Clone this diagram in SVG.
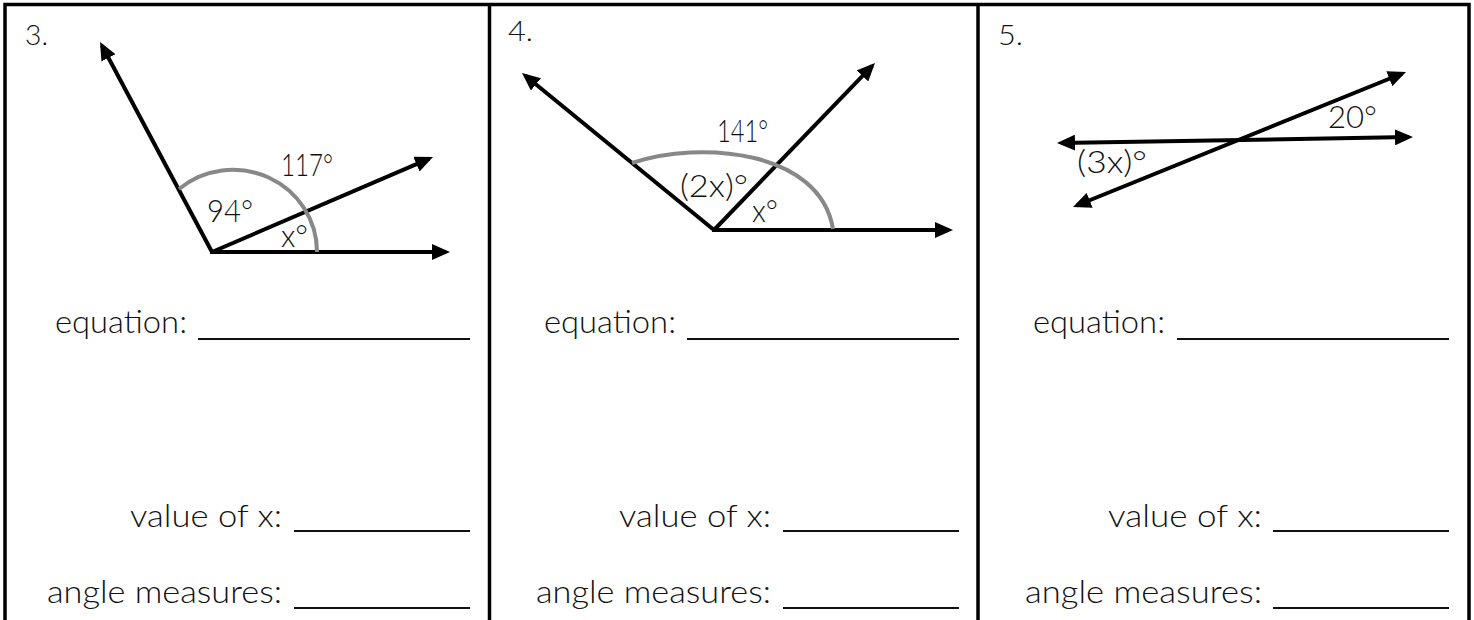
<svg xmlns="http://www.w3.org/2000/svg" width="1474" height="620" viewBox="0 0 1474 620">
<style>
.frame{fill:none;stroke:#000;stroke-width:3.5}
.ray{fill:none;stroke:#000;stroke-width:4;marker-end:url(#ah)}
.dbl{fill:none;stroke:#000;stroke-width:4;marker-end:url(#ah);marker-start:url(#ah)}
.arc{fill:none;stroke:#888;stroke-width:4}
.blank{stroke:#111;stroke-width:2}
text{font-family:"Lato","Liberation Sans",sans-serif;font-weight:300;fill:#111;font-size:32px}
.num{font-size:28px}
</style>
<defs>
<marker id="ah" markerUnits="userSpaceOnUse" markerWidth="18" markerHeight="16" viewBox="0 0 18 16" refX="14" refY="8" orient="auto-start-reverse">
<path d="M0,0 L18,8 L0,16 z" fill="#000"/>
</marker>
</defs>
<g id="frame">
<path class="frame" d="M5,620 V4.5 H1469 V620"/>
<line class="frame" x1="489.5" y1="4.5" x2="489.5" y2="620"/>
<line class="frame" x1="978" y1="4.5" x2="978" y2="620"/>
</g>
<g id="connectors">
<line class="ray" x1="212" y1="252" x2="101.9" y2="45.5"/>
<line class="ray" x1="212" y1="252" x2="429.3" y2="158.6"/>
<line class="ray" x1="210" y1="252" x2="446" y2="252"/>
<line class="ray" x1="714" y1="230" x2="525.1" y2="75.5"/>
<line class="ray" x1="714" y1="230" x2="872.2" y2="65.9"/>
<line class="ray" x1="712" y1="230" x2="949" y2="230"/>
<line class="dbl" x1="1061" y1="142.9" x2="1409" y2="137.1"/>
<line class="dbl" x1="1076.7" y1="205.5" x2="1402.3" y2="73.5"/>
</g>
<g id="problem3">
<text class="num" x="25" y="45" textLength="23" lengthAdjust="spacingAndGlyphs">3.</text>
<path class="arc" d="M179,189 A84,82 0 0 1 317,252"/>
<text x="281" y="176" textLength="52" lengthAdjust="spacingAndGlyphs">117°</text>
<text x="207" y="222" textLength="46" lengthAdjust="spacingAndGlyphs">94°</text>
<text x="281" y="247" textLength="27" lengthAdjust="spacingAndGlyphs">x°</text>
<text x="55" y="333" textLength="132" lengthAdjust="spacingAndGlyphs">equation:</text>
<line class="blank" x1="198" y1="339" x2="470" y2="339"/>
<text x="130" y="527" textLength="152" lengthAdjust="spacingAndGlyphs">value of x:</text>
<line class="blank" x1="294" y1="531" x2="470" y2="531"/>
<text x="47" y="603" textLength="235" lengthAdjust="spacingAndGlyphs">angle measures:</text>
<line class="blank" x1="294" y1="608" x2="470" y2="608"/>
</g>
<g id="problem4">
<text class="num" x="508" y="41" textLength="25" lengthAdjust="spacingAndGlyphs">4.</text>
<path class="arc" d="M632,163 C700,140 820,150 833,229"/>
<text x="717" y="142" textLength="51" lengthAdjust="spacingAndGlyphs">141°</text>
<text x="680" y="197" textLength="68" lengthAdjust="spacingAndGlyphs">(2x)°</text>
<text x="752" y="222" textLength="26" lengthAdjust="spacingAndGlyphs">x°</text>
<text x="544" y="333" textLength="132" lengthAdjust="spacingAndGlyphs">equation:</text>
<line class="blank" x1="687" y1="339" x2="959" y2="339"/>
<text x="619" y="527" textLength="152" lengthAdjust="spacingAndGlyphs">value of x:</text>
<line class="blank" x1="783" y1="531" x2="959" y2="531"/>
<text x="536" y="603" textLength="235" lengthAdjust="spacingAndGlyphs">angle measures:</text>
<line class="blank" x1="783" y1="608" x2="959" y2="608"/>
</g>
<g id="problem5">
<text class="num" x="998" y="45" textLength="25" lengthAdjust="spacingAndGlyphs">5.</text>
<text x="1328" y="128" textLength="49" lengthAdjust="spacingAndGlyphs">20°</text>
<text x="1077" y="173" textLength="70" lengthAdjust="spacingAndGlyphs">(3x)°</text>
<text x="1033" y="333" textLength="132" lengthAdjust="spacingAndGlyphs">equation:</text>
<line class="blank" x1="1177" y1="339" x2="1449" y2="339"/>
<text x="1108" y="527" textLength="154" lengthAdjust="spacingAndGlyphs">value of x:</text>
<line class="blank" x1="1273" y1="531" x2="1449" y2="531"/>
<text x="1025" y="603" textLength="237" lengthAdjust="spacingAndGlyphs">angle measures:</text>
<line class="blank" x1="1273" y1="608" x2="1449" y2="608"/>
</g>
</svg>
